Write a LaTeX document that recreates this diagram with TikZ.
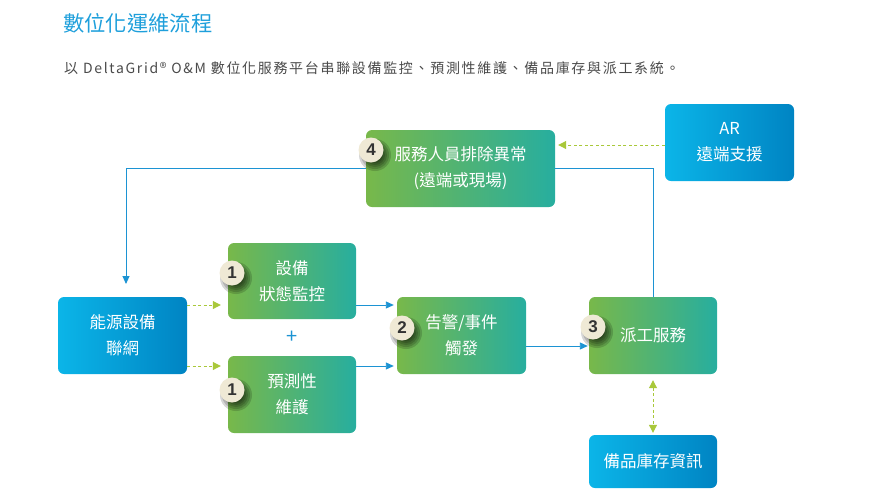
\documentclass[tikz,border=0pt]{standalone}
\usepackage{fontspec}
\setmainfont{Noto Sans CJK TC}
\newfontfamily\numfont{Liberation Sans}
\usetikzlibrary{arrows.meta,calc}
\definecolor{titleblue}{HTML}{1E9FDB}
\definecolor{subgray}{HTML}{4A4A4A}
\definecolor{gleft}{HTML}{78B84A}
\definecolor{gright}{HTML}{27AE9F}
\definecolor{bleft}{HTML}{0BB5E8}
\definecolor{bright}{HTML}{0084C3}
\definecolor{linkblue}{HTML}{1C93D3}
\definecolor{dashgreen}{HTML}{A9C83A}
\definecolor{badgefill}{HTML}{EFE9D5}
\definecolor{badgetext}{HTML}{333333}
\tikzset{
  greenbox/.style={rounded corners=6pt, left color=gleft, right color=gright,
    minimum width=128pt, minimum height=76pt, text=white, align=center,
    font=\fontsize{16.5}{26}\selectfont, inner sep=0pt},
  bluebox/.style={rounded corners=6pt, left color=bleft, right color=bright,
    minimum width=128pt, minimum height=76pt, text=white, align=center,
    font=\fontsize{16.5}{26}\selectfont, inner sep=0pt},
  badge/.style={circle, fill=badgefill, minimum size=25pt, inner sep=0pt,
    text=badgetext, font=\numfont\bfseries\fontsize{17}{17}\selectfont},
  badgeshadow/.style={fill=black, opacity=0.16},
  bluelink/.style={draw=linkblue, line width=0.9pt},
  bluearrow/.style={bluelink, -{Triangle[length=8pt,width=7pt]}},
  greendash/.style={draw=dashgreen, line width=1pt, dash pattern=on 3pt off 2.5pt,
    -{Triangle[length=8pt,width=8pt]}},
  greendash2/.style={draw=dashgreen, line width=1pt, dash pattern=on 3pt off 2.5pt,
    {Triangle[length=8pt,width=8pt]}-{Triangle[length=8pt,width=8pt]}},
}
\begin{document}
\begin{tikzpicture}[x=1pt,y=-1pt]
\useasboundingbox (0,0) rectangle (871,491);
% title and subtitle
\node[anchor=west, text=titleblue, font=\fontsize{21.3}{24}\selectfont, inner sep=0pt] (title) at (63,23) {數位化運維流程};
\node[anchor=west, text=subgray, font=\fontsize{14}{16}\selectfont\addfontfeature{LetterSpace=12}, inner sep=0pt] (sub) at (64,68) {以 DeltaGrid® O\&M 數位化服務平台串聯設備監控、預測性維護、備品庫存與派工系統。};
% boxes
\node[greenbox, minimum width=189pt, minimum height=77pt] (svc) at (460.5,168.5) {服務人員排除異常\\(遠端或現場)};
\node[bluebox, minimum width=129pt, minimum height=77pt] (ar) at (729.5,142.5) {AR\\遠端支援};
\node[bluebox, minimum width=129pt, minimum height=77pt] (energy) at (122.5,335.5) {能源設備\\聯網};
\node[greenbox, minimum width=128pt, minimum height=76pt] (dev) at (292,281) {設備\\狀態監控};
\node[greenbox, minimum width=128pt, minimum height=77pt] (pred) at (292,394.5) {預測性\\維護};
\node[greenbox, minimum width=129pt, minimum height=77pt] (alarm) at (461.5,335.5) {告警/事件\\觸發};
\node[greenbox, minimum width=128pt, minimum height=77pt] (disp) at (653,335.5) {派工服務};
\node[bluebox, minimum width=128pt, minimum height=53pt] (stock) at (653,461.5) {備品庫存資訊};
\node[text=linkblue, font=\fontsize{20}{20}\selectfont, inner sep=0pt] (plus) at (292,337) {+};
% connectors
\coordinate (etop) at (126,284);
\draw[bluearrow] (svc.west) -| (etop);
\draw[bluelink] (svc.east) -| (disp.north);
\coordinate (arw) at ([yshift=-2.5pt]ar.west);
\draw[greendash, shorten >=3pt] (arw) -- (arw -| svc.east);
\coordinate (e1) at ([yshift=30.5pt]energy.east);
\coordinate (e2) at ([yshift=-30.5pt]energy.east);
\draw[greendash, shorten >=7pt] (e1) -- (e1 -| dev.west);
\draw[greendash, shorten >=7pt] (e2) -- (e2 -| pred.west);
\coordinate (a1) at ([yshift=30.5pt]alarm.west);
\coordinate (a2) at ([yshift=-30.5pt]alarm.west);
\draw[bluearrow, shorten >=3pt] (a1 -| dev.east) -- (a1);
\draw[bluearrow, shorten >=3pt] (a2 -| pred.east) -- (a2);
\coordinate (a3) at ([yshift=-10.5pt]alarm.east);
\draw[bluearrow, shorten >=1pt] (a3) -- (a3 -| disp.west);
\draw[greendash2, shorten <=6pt, shorten >=2pt] (disp.south) -- (stock.north);
% badges with soft shadows
\foreach \bx/\by in {232/273, 232/390, 402/328, 593/327, 371/150}{
  \foreach \r in {16,14,12,10,8}
    \fill[badgeshadow] (\bx+4, \by+5) circle (\r pt);
}
\node[badge] (b1) at (232,273) {1};
\node[badge] (b1b) at (232,390) {1};
\node[badge] (b2) at (402,328) {2};
\node[badge] (b3) at (593,327) {3};
\node[badge] (b4) at (371,150) {4};
\end{tikzpicture}
\end{document}
